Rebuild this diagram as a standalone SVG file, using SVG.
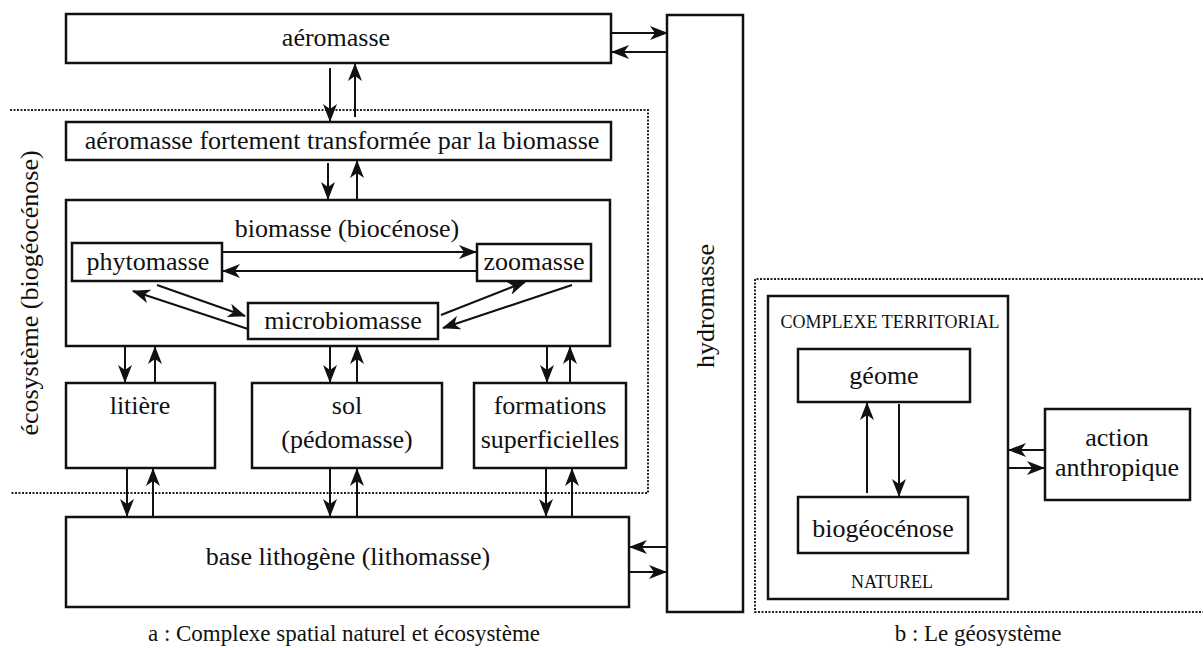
<svg xmlns="http://www.w3.org/2000/svg" width="1203" height="648" viewBox="0 0 1203 648">
<style>
.box{fill:none;stroke:#111;stroke-width:2.5}
.dot{fill:none;stroke:#222;stroke-width:2;stroke-dasharray:2 1.5}
.ln{fill:none;stroke:#111;stroke-width:2;marker-end:url(#ah)}
</style>
<defs>
<marker id="ah" viewBox="0 0 18 14" refX="17" refY="7" markerWidth="18" markerHeight="14" orient="auto" markerUnits="userSpaceOnUse">
<path d="M0,0 L18,7 L0,14 L5,7 z" fill="#111"/>
</marker>
</defs>
<rect width="1203" height="648" fill="#fff"/>
<g font-family="Liberation Serif" font-size="26" fill="#111" text-anchor="middle">

<g id="ecosystem-frame">
<path class="dot" d="M10,110 H648 V493 H10"/>
<text transform="translate(38,293) rotate(-90)">écosystème (biogéocénose)</text>
</g>
<g id="geosystem-frame">
<path class="dot" d="M1203,279 H755 V612 H1203"/>
</g>

<g id="aeromasse"><rect class="box" x="66" y="14" width="545" height="49"/><text x="336" y="46">aéromasse</text></g>
<g id="aeromasse-transformee"><rect class="box" x="66" y="122" width="545" height="38"/><text x="342" y="149">aéromasse fortement transformée par la biomasse</text></g>
<g id="biomasse"><rect class="box" x="66" y="200" width="544" height="146"/><text x="347" y="237">biomasse (biocénose)</text></g>
<g id="phytomasse"><rect class="box" x="72" y="243" width="150" height="38"/><text x="148" y="270">phytomasse</text></g>
<g id="zoomasse"><rect class="box" x="477" y="244" width="114" height="37"/><text x="534" y="270">zoomasse</text></g>
<g id="microbiomasse"><rect class="box" x="248" y="303" width="190" height="36"/><text x="343" y="329">microbiomasse</text></g>
<g id="litiere"><rect class="box" x="66" y="383" width="149" height="85"/><text x="140" y="414">litière</text></g>
<g id="sol"><rect class="box" x="252" y="383" width="190" height="85"/><text x="347" y="414">sol</text><text x="347" y="448">(pédomasse)</text></g>
<g id="formations"><rect class="box" x="474" y="383" width="152" height="85"/><text x="550" y="414">formations</text><text x="550" y="448">superficielles</text></g>
<g id="base-lithogene"><rect class="box" x="66" y="517" width="563" height="90"/><text x="348" y="565">base lithogène (lithomasse)</text></g>
<g id="hydromasse"><rect class="box" x="667" y="15" width="76" height="597"/><text transform="translate(714,306) rotate(-90)">hydromasse</text></g>

<g id="complexe-territorial"><rect class="box" x="768" y="296" width="240" height="303"/><text x="890" y="328" font-size="18">COMPLEXE TERRITORIAL</text><text x="892" y="588" font-size="18">NATUREL</text></g>
<g id="geome"><rect class="box" x="798" y="349" width="172" height="53"/><text x="884" y="384">géome</text></g>
<g id="biogeocenose"><rect class="box" x="798" y="497" width="170" height="56"/><text x="883" y="537">biogéocénose</text></g>
<g id="action-anthropique"><rect class="box" x="1045" y="409" width="145" height="91"/><text x="1117" y="446">action</text><text x="1117" y="476">anthropique</text></g>

<g id="captions" font-size="23">
<text x="344" y="641">a : Complexe spatial naturel et écosystème</text>
<text x="978" y="641">b : Le géosystème</text>
</g>
</g>

<g id="connectors">
<line class="ln" x1="611" y1="33" x2="667" y2="33"/>
<line class="ln" x1="667" y1="52" x2="612" y2="52"/>
<line class="ln" x1="330" y1="68" x2="330" y2="121"/>
<line class="ln" x1="355" y1="117" x2="355" y2="64"/>
<line class="ln" x1="328" y1="163" x2="328" y2="199"/>
<line class="ln" x1="357" y1="199" x2="357" y2="161"/>
<line class="ln" x1="222" y1="252" x2="476" y2="252"/>
<line class="ln" x1="477" y1="271" x2="223" y2="271"/>
<line class="ln" x1="157" y1="285" x2="245" y2="316"/>
<line class="ln" x1="248" y1="329" x2="133" y2="291"/>
<line class="ln" x1="441" y1="315" x2="525" y2="282"/>
<line class="ln" x1="572" y1="285" x2="443" y2="328"/>
<line class="ln" x1="125" y1="347" x2="125" y2="382"/>
<line class="ln" x1="155" y1="383" x2="155" y2="347"/>
<line class="ln" x1="330" y1="347" x2="330" y2="382"/>
<line class="ln" x1="357" y1="383" x2="357" y2="347"/>
<line class="ln" x1="547" y1="347" x2="547" y2="382"/>
<line class="ln" x1="570" y1="383" x2="570" y2="347"/>
<line class="ln" x1="127" y1="469" x2="127" y2="516"/>
<line class="ln" x1="153" y1="517" x2="153" y2="469"/>
<line class="ln" x1="330" y1="469" x2="330" y2="516"/>
<line class="ln" x1="357" y1="517" x2="357" y2="469"/>
<line class="ln" x1="546" y1="469" x2="546" y2="516"/>
<line class="ln" x1="572" y1="517" x2="572" y2="469"/>
<line class="ln" x1="667" y1="547" x2="630" y2="547"/>
<line class="ln" x1="629" y1="572" x2="666" y2="572"/>
<line class="ln" x1="867" y1="493" x2="867" y2="403"/>
<line class="ln" x1="899" y1="404" x2="899" y2="496"/>
<line class="ln" x1="1045" y1="450" x2="1009" y2="450"/>
<line class="ln" x1="1008" y1="468" x2="1044" y2="468"/>
</g>
</svg>
